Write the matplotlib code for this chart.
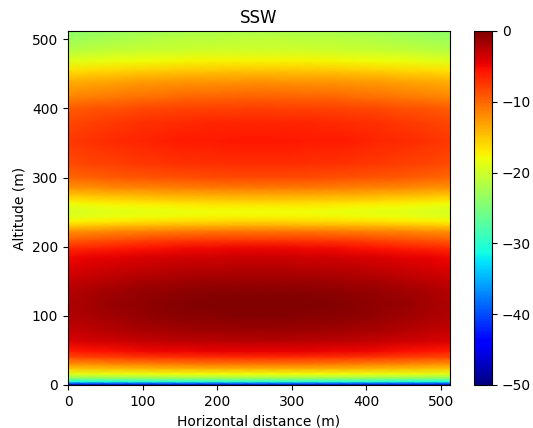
import numpy as np
import matplotlib
matplotlib.use('Agg')
import matplotlib.pyplot as plt

# altitude samples (m) and the field values (dB)
altitude = [0, 2, 5, 10, 16, 24, 30, 40, 49, 64, 80, 100, 117, 135, 150, 170,
            185, 198, 210, 223, 231, 237, 244, 250, 256, 262, 268, 275, 285,
            300, 320, 353, 380, 401, 415, 440, 455, 469, 485, 500, 512]
# column through the middle (x ~ 256 m)
center_db = [-50, -40, -30, -23, -18, -13.5, -11, -7, -4.5, -2.5, -1.2, -0.3,
             0, -0.4, -1.2, -2.5, -3.5, -4.8, -7.5, -11, -14, -16, -17.5, -18,
             -17.5, -16.5, -15, -13.5, -11, -8.5, -7, -5.8, -6.5, -8, -9.5,
             -12.5, -15, -17.5, -20, -21, -22]
# column at the side edges (x = 0 and 512 m)
edge_db = [-50, -41, -31, -24, -19, -15, -12.5, -8.5, -6, -4, -3, -2.3, -2.1,
           -2.4, -3, -4.2, -5, -6.8, -9.5, -12.5, -15.5, -17.5, -19, -19.5,
           -19, -18, -16.5, -15, -12.5, -10, -8.5, -7.5, -8.3, -9.5, -11.5, -14,
           -16.5, -19, -21.5, -23, -24]

# horizontal samples (m) and how far each is from edge (0) to middle (1)
distance = [0, 32, 64, 96, 128, 160, 192, 224, 256, 288, 320, 352, 384, 416, 448, 480, 512]
weight = [0, 0.25, 0.45, 0.62, 0.76, 0.87, 0.95, 0.99, 1, 0.99, 0.95, 0.87,
          0.76, 0.62, 0.45, 0.25, 0]

c = np.array(center_db)
e = np.array(edge_db)
w = np.array(weight)
field = e[:, None] + (c - e)[:, None] * w[None, :]

fig = plt.figure(figsize=(5.33, 4.28), dpi=100)
ax = fig.add_axes([0.1276, 0.1005, 0.7167, 0.8271])
cax = fig.add_axes([0.889, 0.1005, 0.034, 0.8271])

X, Z = np.meshgrid(distance, altitude)
mesh = ax.pcolormesh(X, Z, field, shading='gouraud', cmap='jet', vmin=-50, vmax=0)
ax.set_xlim(0, 512)
ax.set_ylim(0, 512)
ax.set_title('SSW')
ax.set_xlabel('Horizontal distance (m)')
ax.set_ylabel('Altitude (m)')

fig.colorbar(mesh, cax=cax)

fig.savefig('out.png', dpi=100)
